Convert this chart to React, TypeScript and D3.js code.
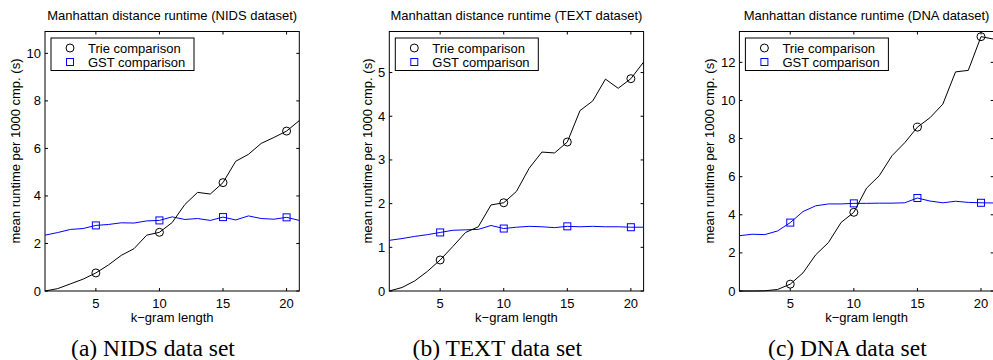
import React, { useEffect, useRef } from 'react';
import * as d3 from 'd3';

// k-gram lengths on the x axis
const kGram = [1, 2, 3, 4, 5, 6, 7, 8, 9, 10, 11, 12, 13, 14, 15, 16, 17, 18, 19, 20, 21];
const xTicks = [5, 10, 15, 20];
const markerK = [5, 10, 15, 20];

// mean runtime per 1000 comparisons (s)
const nidsTrie = [0, 0.1, 0.3, 0.5, 0.76, 1.1, 1.5, 1.78, 2.35, 2.47, 2.88, 3.64, 4.15, 4.08, 4.56, 5.46, 5.75, 6.21, 6.46, 6.73, 7.17];
const nidsGst = [2.35, 2.46, 2.59, 2.63, 2.76, 2.8, 2.87, 2.86, 2.95, 2.97, 3.12, 3.01, 3.05, 2.97, 3.11, 2.99, 3.16, 3.05, 3.02, 3.1, 2.97];
const textTrie = [0, 0.08, 0.23, 0.45, 0.71, 1.02, 1.34, 1.47, 1.97, 2.02, 2.28, 2.81, 3.18, 3.16, 3.41, 4.13, 4.35, 4.85, 4.64, 4.86, 5.24];
const textGst = [1.16, 1.2, 1.25, 1.29, 1.34, 1.39, 1.4, 1.41, 1.5, 1.43, 1.46, 1.48, 1.47, 1.45, 1.48, 1.47, 1.48, 1.47, 1.47, 1.46, 1.46];
const dnaTrie = [0, 0, 0.01, 0.08, 0.36, 0.95, 1.9, 2.54, 3.6, 4.13, 5.4, 6.05, 7.1, 7.78, 8.6, 9.1, 9.81, 11.5, 11.58, 13.35, 13.22];
const dnaGst = [2.9, 2.98, 2.96, 3.15, 3.59, 4.17, 4.47, 4.57, 4.57, 4.6, 4.6, 4.61, 4.61, 4.63, 4.88, 4.72, 4.63, 4.71, 4.65, 4.63, 4.62];

const titles = [
  'Manhattan distance runtime (NIDS dataset)',
  'Manhattan distance runtime (TEXT dataset)',
  'Manhattan distance runtime (DNA dataset)'
];
const captions = ['(a) NIDS data set', '(b) TEXT data set', '(c) DNA data set'];
const yTickSets = [
  [0, 2, 4, 6, 8, 10],
  [0, 1, 2, 3, 4, 5],
  [0, 2, 4, 6, 8, 10, 12]
];
const yMaxes = [10.92, 5.94, 13.62];
const seriesNames = ['Trie comparison', 'GST comparison'];
const trieSets = [nidsTrie, textTrie, dnaTrie];
const gstSets = [nidsGst, textGst, dnaGst];

const SANS = '"Liberation Sans", Arial, Helvetica, sans-serif';
const SERIF = '"Liberation Serif", "Times New Roman", serif';

const App = () => {
  const ref = useRef<SVGSVGElement | null>(null);

  useEffect(() => {
    const svg = d3.select(ref.current);
    svg.selectAll('*').remove();

    const panelLefts = [45, 389.3, 739.4];
    const plotW = 254.3;
    const top = 31.5;
    const bottom = 291;
    const tick = 3;

    titles.forEach((title, i) => {
      const left = panelLefts[i];
      const x = d3.scaleLinear().domain([1, 21]).range([left, left + plotW]);
      const y = d3.scaleLinear().domain([0, yMaxes[i]]).range([bottom, top]);
      const g = svg.append('g');

      // box + inward ticks
      g.append('rect')
        .attr('x', left)
        .attr('y', top)
        .attr('width', plotW)
        .attr('height', bottom - top)
        .attr('fill', 'none')
        .attr('stroke', '#000')
        .attr('stroke-width', 1);

      xTicks.forEach((t) => {
        g.append('line').attr('x1', x(t)).attr('x2', x(t)).attr('y1', bottom).attr('y2', bottom - tick).attr('stroke', '#000');
        g.append('line').attr('x1', x(t)).attr('x2', x(t)).attr('y1', top).attr('y2', top + tick).attr('stroke', '#000');
        g.append('text')
          .attr('x', x(t))
          .attr('y', bottom + 17)
          .attr('text-anchor', 'middle')
          .style('font', `13px ${SANS}`)
          .text(t);
      });

      const yTicks = yTickSets[i];
      yTicks.forEach((t) => {
        g.append('line').attr('x1', left).attr('x2', left + tick).attr('y1', y(t)).attr('y2', y(t)).attr('stroke', '#000');
        g.append('line').attr('x1', left + plotW).attr('x2', left + plotW - tick).attr('y1', y(t)).attr('y2', y(t)).attr('stroke', '#000');
        g.append('text')
          .attr('x', left - 4)
          .attr('y', y(t) + 4.5)
          .attr('text-anchor', 'end')
          .style('font', `13px ${SANS}`)
          .text(t);
      });

      // labels
      g.append('text')
        .attr('x', left + plotW / 2)
        .attr('y', 20)
        .attr('text-anchor', 'middle')
        .style('font', `13px ${SANS}`)
        .text(title);

      g.append('text')
        .attr('x', left + plotW / 2)
        .attr('y', bottom + 31)
        .attr('text-anchor', 'middle')
        .style('font', `13px ${SANS}`)
        .text('k\u2212gram length');

      const digits = String(d3.max(yTicks)).length;
      const labelX = left - 4 - digits * 7.3 - 11;
      g.append('text')
        .attr('transform', `translate(${labelX},151) rotate(-90)`)
        .attr('text-anchor', 'middle')
        .attr('dy', '0.35em')
        .style('font', `13px ${SANS}`)
        .text('mean runtime per 1000 cmp. (s)');

      g.append('text')
        .attr('x', left + 108)
        .attr('y', 356)
        .attr('text-anchor', 'middle')
        .style('font', `23.5px ${SERIF}`)
        .text(captions[i]);

      // series
      const line = d3
        .line<number>()
        .x((d, k) => x(kGram[k]))
        .y((d) => y(d));

      g.append('path').datum(gstSets[i]).attr('d', line).attr('fill', 'none').attr('stroke', '#0000ff').attr('stroke-width', 1);
      g.append('path').datum(trieSets[i]).attr('d', line).attr('fill', 'none').attr('stroke', '#000').attr('stroke-width', 1);

      markerK.forEach((k) => {
        const idx = kGram.indexOf(k);
        g.append('circle')
          .attr('cx', x(k))
          .attr('cy', y(trieSets[i][idx]))
          .attr('r', 4)
          .attr('fill', 'none')
          .attr('stroke', '#000');
        g.append('rect')
          .attr('x', x(k) - 3.5)
          .attr('y', y(gstSets[i][idx]) - 3.5)
          .attr('width', 7)
          .attr('height', 7)
          .attr('fill', 'none')
          .attr('stroke', '#0000ff');
      });

      // legend
      const lx = left + 6;
      const ly = 38;
      const lg = g.append('g');
      lg.append('rect')
        .attr('x', lx)
        .attr('y', ly)
        .attr('width', 143)
        .attr('height', 32.5)
        .attr('fill', '#fff')
        .attr('stroke', '#000');
      seriesNames.forEach((name, j) => {
        const cy = ly + 10 + j * 14;
        if (j === 0) {
          lg.append('circle').attr('cx', lx + 19).attr('cy', cy).attr('r', 4).attr('fill', 'none').attr('stroke', '#000');
        } else {
          lg.append('rect')
            .attr('x', lx + 15.5)
            .attr('y', cy - 3.5)
            .attr('width', 7)
            .attr('height', 7)
            .attr('fill', 'none')
            .attr('stroke', '#0000ff');
        }
        lg.append('text')
          .attr('x', lx + 37)
          .attr('y', cy + 4.5)
          .style('font', `13px ${SANS}`)
          .text(name);
      });
    });
  }, []);

  return (
    <svg
      ref={ref}
      width={993}
      height={360}
      style={{ position: 'absolute', left: 0, top: 0, background: '#fff' }}
    />
  );
};

export default App;
